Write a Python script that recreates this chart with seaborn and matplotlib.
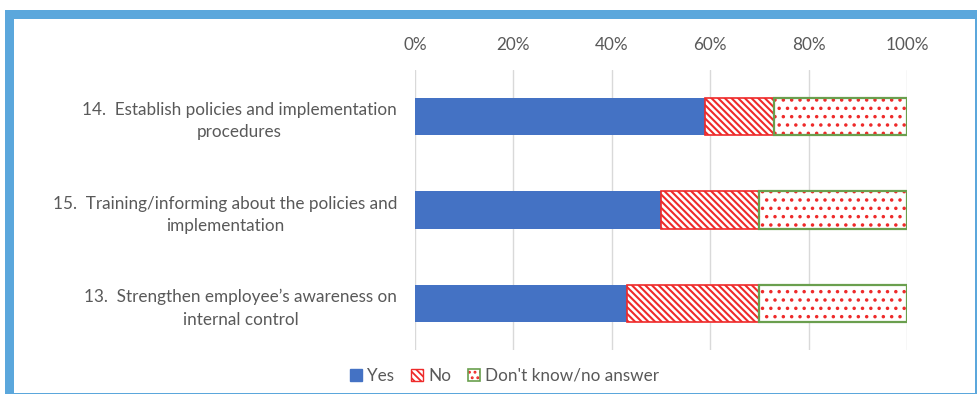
import matplotlib
matplotlib.use("Agg")
import matplotlib.pyplot as plt
from matplotlib.patches import Patch, Rectangle
from matplotlib.legend_handler import HandlerTuple
from matplotlib.ticker import PercentFormatter
import pandas as pd
import seaborn as sns

# Survey items and response shares (%)
items = [
    "14.  Establish policies and implementation\nprocedures",
    "15.  Training/informing about the policies and\nimplementation",
    "13.  Strengthen employee\u2019s awareness on\ninternal control",
]
yes = [59, 50, 43]
no = [14, 20, 27]
dont_know = [27, 30, 30]
series_names = ["Yes", "No", "Don't know/no answer"]
ticks = [0, 20, 40, 60, 80, 100]

BLUE = "#4472C4"
RED = "#EE2A2A"
GREEN = "#6A9F4E"
TEXT = "#595959"
FRAME = "#5BA7DC"
FS = 12.3
STRIPES = "\\" * 5
DOTS = ".."

sns.set_theme(style="white")
plt.rcParams["font.family"] = ["Lato", "DejaVu Sans"]

df = pd.DataFrame({"item": items, "yes": yes, "no": no, "dk": dont_know})

fig = plt.figure(figsize=(9.78, 3.94), dpi=100)
ax = fig.add_axes([0.4243, 0.1110, 0.5031, 0.7120])

bar_w = 0.4
sns.barplot(data=df, y="item", x="yes", orient="h", color=BLUE, width=bar_w,
            ax=ax, saturation=1, linewidth=0)
plt.rcParams["hatch.linewidth"] = 1.5
sns.barplot(data=df, y="item", x="no", orient="h", color="white", width=bar_w,
            ax=ax, saturation=1)
plt.rcParams["hatch.linewidth"] = 1.3
sns.barplot(data=df, y="item", x="dk", orient="h", color="white", width=bar_w,
            ax=ax, saturation=1)

n = len(items)
yes_bars = ax.patches[0:n]
no_bars = ax.patches[n:2 * n]
dk_bars = ax.patches[2 * n:3 * n]

# stack segments: each starts where the previous one ends
for i in range(n):
    nb = no_bars[i]
    nb.set_x(yes[i])
    nb.set_facecolor("white")
    nb.set_edgecolor(RED)
    nb.set_linewidth(1.2)
    nb.set_hatch(STRIPES)

    db = dk_bars[i]
    db.set_x(yes[i] + no[i])
    db.set_facecolor("white")
    db.set_edgecolor(RED)
    db.set_linewidth(0)
    db.set_hatch(DOTS)
    ax.add_patch(Rectangle(db.get_xy(), db.get_width(), db.get_height(),
                           fill=False, edgecolor=GREEN, linewidth=1.6, zorder=3))

ax.set_xlim(0, 100)
ax.set_ylim(2.5, -0.5)
ax.set_xticks(ticks)
ax.xaxis.set_major_formatter(PercentFormatter(decimals=0))
ax.xaxis.tick_top()
ax.set_xlabel("")
ax.set_ylabel("")
ax.grid(axis="x", color="#D9D9D9", linewidth=1)
ax.set_axisbelow(True)
for s in ax.spines.values():
    s.set_visible(False)
ax.tick_params(axis="x", length=0, pad=12, labelsize=FS, labelcolor=TEXT)
ax.tick_params(axis="y", length=0, pad=13, labelsize=FS, labelcolor=TEXT)
for lbl in ax.get_yticklabels():
    lbl.set_multialignment("center")
    lbl.set_linespacing(1.5)

# legend
plt.rcParams["hatch.linewidth"] = 1.4
h_yes = Patch(facecolor=BLUE, edgecolor=BLUE)
h_no = Patch(facecolor="white", edgecolor=RED, hatch=STRIPES, linewidth=1)
plt.rcParams["hatch.linewidth"] = 1.3
h_dk = (Patch(facecolor="white", edgecolor=RED, hatch="...", linewidth=0),
        Patch(fill=False, edgecolor=GREEN, linewidth=1.2))
fig.legend([h_yes, h_no, h_dk], series_names, loc="center",
           bbox_to_anchor=(0.516, 0.046), ncol=3, frameon=False,
           fontsize=FS, labelcolor=TEXT, handlelength=0.7, handleheight=0.7,
           handletextpad=0.3, columnspacing=1.0,
           handler_map={tuple: HandlerTuple(ndivide=1)})

# blue outer frame
W, H = 978, 394
def frame_rect(x0, y0, x1, y1):
    fig.patches.append(Rectangle((x0 / W, 1 - y1 / H), (x1 - x0) / W, (y1 - y0) / H,
                                 transform=fig.transFigure, facecolor=FRAME,
                                 edgecolor="none", zorder=10))

frame_rect(5, 10, 978, 19)     # top
frame_rect(5, 10, 14, 393.5)   # left
frame_rect(975, 10, 978, 393.5)  # right
frame_rect(5, 392.5, 978, 393.5)  # bottom

fig.savefig("out.png", dpi=100)
